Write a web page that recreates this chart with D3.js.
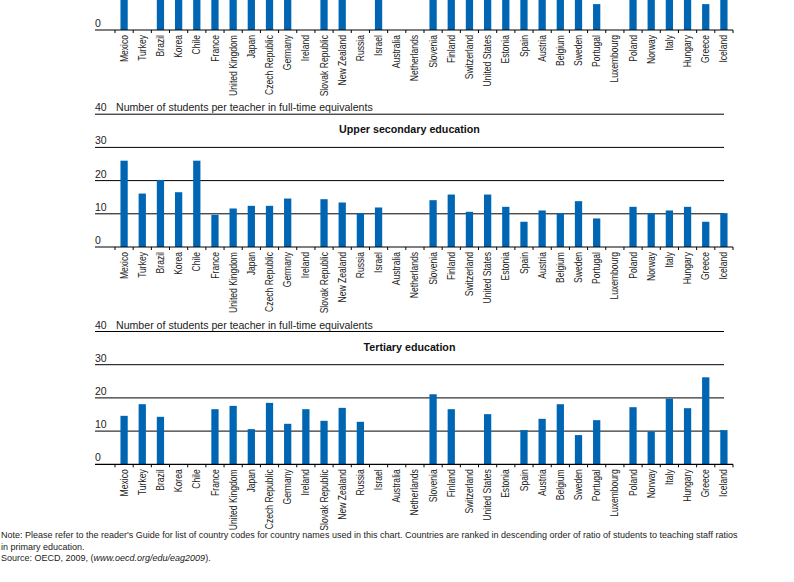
<!DOCTYPE html>
<html><head><meta charset="utf-8">
<script src="https://cdn.jsdelivr.net/npm/d3@7"></script>
<style>
html,body{margin:0;padding:0;background:#fff;}
svg{display:block;}
</style></head>
<body>
<svg id="chart" width="794" height="582"></svg>
<script>
const countries = ["Mexico","Turkey","Brazil","Korea","Chile","France","United Kingdom","Japan","Czech Republic","Germany","Ireland","Slovak Republic","New Zealand","Russia","Israel","Australia","Netherlands","Slovenia","Finland","Switzerland","United States","Estonia","Spain","Austria","Belgium","Sweden","Portugal","Luxembourg","Poland","Norway","Italy","Hungary","Greece","Iceland"];

// Lower secondary (panel mostly cut off at top of page)
const lowerSecondary = [33.8,null,25.1,20.2,25.9,14.6,16.8,14.7,11.8,15.2,null,14.1,16.4,null,12.8,null,null,10.5,10.0,11.7,15.1,12.4,10.3,10.1,9.6,11.5,7.8,null,12.7,10.2,10.0,10.2,7.8,10.1];
const upperSecondary = [26.0,16.1,20.2,16.5,26.0,9.7,11.6,12.4,12.4,14.6,null,14.4,13.4,10.2,11.9,null,null,14.1,15.8,10.6,15.8,12.1,7.6,11.0,10.2,13.8,8.6,null,12.1,10.2,11.0,12.1,7.6,10.2];
const tertiary = [14.6,18.1,14.3,null,null,16.6,17.6,10.6,18.5,12.2,16.6,13.1,17.0,12.8,null,null,null,21.1,16.6,null,15.1,null,10.3,13.7,18.1,8.8,13.3,null,17.2,9.9,19.8,16.9,26.2,10.3];

const panelTitles = ["Lower secondary education","Upper secondary education","Tertiary education"];
const yTicks = [0,10,20,30,40];
const axisTitle = "Number of students per teacher in full-time equivalents";
const noteLines = [
  "Note: Please refer to the reader's Guide for list of country codes for country names used in this chart. Countries are ranked in descending order of ratio of students to teaching staff ratios",
  "in primary education."
];
const sourceText = "Source: OECD, 2009, (";
const sourceUrl = "www.oecd.org/edu/eag2009";
const sourceEnd = ").";

const series = [lowerSecondary, upperSecondary, tertiary];

const svg = d3.select("#chart");
const blue = "#0066b3";
const font = "'Liberation Sans',Arial,sans-serif";

const gridLeft = 95, gridRight = 724;
const x = d3.scaleBand().domain(countries).range([115, 733]).paddingInner(0.6).paddingOuter(0.3);
const xb = d3.scaleBand().domain(countries).range([115, 733]);
const axisYs = [30, 247, 464.3];
const plotH = 132.8;
const visible = v => v > 8;

series.forEach((vals, pi) => {
  const y0 = axisYs[pi];
  const y = d3.scaleLinear().domain([0, 40]).range([y0, y0 - plotH]);
  const g = svg.append("g");

  // gridlines (not at zero)
  g.selectAll("line.grid").data(yTicks.filter(t => t > 0 && visible(y(t)))).join("line")
    .attr("x1", gridLeft).attr("x2", gridRight)
    .attr("y1", d => y(d)).attr("y2", d => y(d))
    .attr("stroke", "#000").attr("stroke-width", 1);

  // tick labels above the lines
  g.selectAll("text.tl").data(yTicks.filter(t => visible(y(t) - 12))).join("text")
    .attr("x", gridLeft).attr("y", d => y(d) - 3)
    .attr("font-family", font).attr("font-size", 10.5).attr("fill", "#222")
    .text(d => d);

  if (visible(y(40) - 12)) {
    // axis title next to 40
    g.append("text").attr("x", 116).attr("y", y(40) - 3)
      .attr("font-family", font).attr("font-size", 10.6).attr("fill", "#222")
      .text(axisTitle);
    // panel title
    g.append("text").attr("x", (gridLeft + gridRight) / 2).attr("y", y(40) + 19)
      .attr("text-anchor", "middle").attr("font-family", font)
      .attr("font-size", 10.7).attr("font-weight", "bold").attr("fill", "#111")
      .text(panelTitles[pi]);
  }

  // bars
  const data = countries.map((c, i) => ({c, v: vals[i]})).filter(d => d.v != null);
  g.selectAll("rect").data(data).join("rect")
    .attr("x", d => x(d.c)).attr("width", x.bandwidth())
    .attr("y", d => y(d.v)).attr("height", d => y(0) - y(d.v))
    .attr("fill", blue);

  // x axis line + ticks at band boundaries
  g.append("line").attr("x1", gridLeft).attr("x2", 733).attr("y1", y0).attr("y2", y0)
    .attr("stroke", "#000").attr("stroke-width", 1.2);
  const boundaries = countries.map(c => xb(c)).concat([xb.range()[1]]);
  g.selectAll("line.tk").data(boundaries).join("line")
    .attr("x1", d => d).attr("x2", d => d).attr("y1", y0).attr("y2", y0 + 3)
    .attr("stroke", "#000").attr("stroke-width", 1);

  // country labels (condensed)
  g.selectAll("text.cl").data(countries).join("text")
    .attr("transform", d => `translate(${xb(d) + xb.bandwidth() / 2},${y0 + 5}) rotate(-90) scale(0.84,1)`)
    .attr("text-anchor", "end").attr("dy", "0.35em")
    .attr("font-family", font).attr("font-size", 10.2).attr("fill", "#222")
    .text(d => d);
});

// notes
const nt = svg.append("g").attr("font-family", font).attr("font-size", 9).attr("fill", "#222");
noteLines.forEach((l, i) => {
  nt.append("text").attr("x", 1).attr("y", 538 + i * 11.5).text(l);
});
const s = nt.append("text").attr("x", 1).attr("y", 561);
s.append("tspan").text(sourceText);
s.append("tspan").attr("font-style", "italic").text(sourceUrl);
s.append("tspan").text(sourceEnd);
</script>
</body></html>
